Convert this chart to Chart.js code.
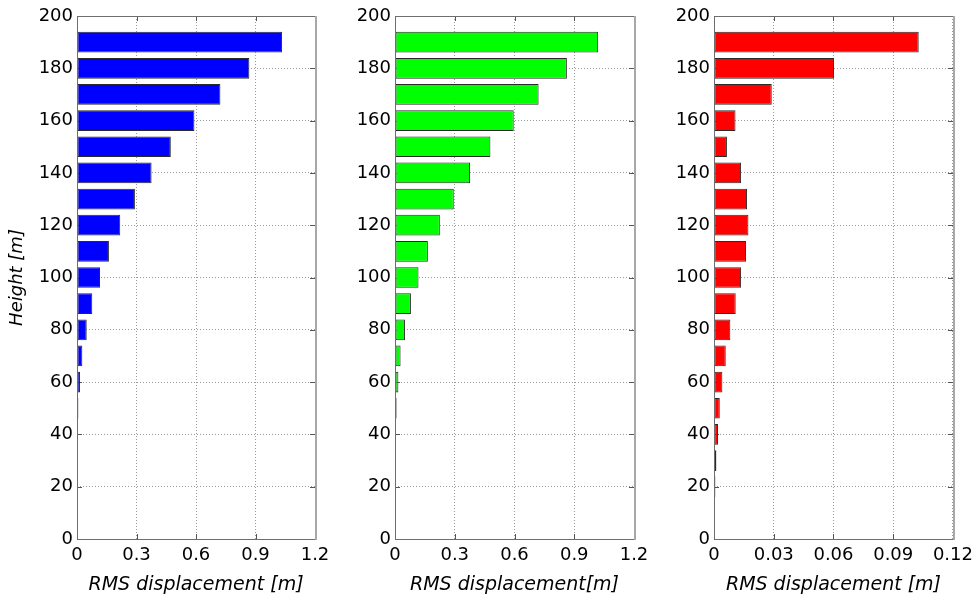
<!DOCTYPE html>
<html>
<head>
<meta charset="utf-8">
<script src="https://cdn.jsdelivr.net/npm/chart.js@4/dist/chart.umd.min.js"></script>
<style>
  html, body { margin: 0; padding: 0; background: #ffffff; }
  #wrap { position: relative; width: 979px; height: 606px; overflow: hidden; }
  canvas { position: absolute; left: 0; top: 0; }
</style>
</head>
<body>
<div id="wrap">
  <canvas id="c1" width="979" height="606"></canvas>
  <canvas id="c2" width="979" height="606"></canvas>
  <canvas id="c3" width="979" height="606"></canvas>
</div>
<script>
// ---- data ----
const heights = [10, 20, 30, 40, 50, 60, 70, 80, 90, 100, 110, 120, 130, 140, 150, 160, 170, 180, 190];
const blueValues  = [0, 0.0003, 0.001, 0.003, 0.007, 0.015, 0.027, 0.049, 0.077, 0.116, 0.161, 0.218, 0.292, 0.376, 0.473, 0.592, 0.723, 0.869, 1.034];
const greenValues = [0, 0.0005, 0.002, 0.005, 0.008, 0.017, 0.028, 0.050, 0.080, 0.118, 0.165, 0.225, 0.295, 0.377, 0.479, 0.596, 0.721, 0.863, 1.020];
const redValues   = [0, 0.0007, 0.0012, 0.0020, 0.0029, 0.0042, 0.0059, 0.0082, 0.0109, 0.0136, 0.0161, 0.0173, 0.0166, 0.0136, 0.0065, 0.0108, 0.0290, 0.0603, 0.1028];

const yTickValues = [0, 20, 40, 60, 80, 100, 120, 140, 160, 180, 200];
const yTickLabels = ['0', '20', '40', '60', '80', '100', '120', '140', '160', '180', '200'];
const xTickValuesBig = [0, 0.3, 0.6, 0.9, 1.2];
const xTickLabelsBig = ['0', '0.3', '0.6', '0.9', '1.2'];
const xTickValuesSmall = [0, 0.03, 0.06, 0.09, 0.12];
const xTickLabelsSmall = ['0', '0.03', '0.06', '0.09', '0.12'];

const yTitle = 'Height [m]';
const xTitles = ['RMS displacement [m]', 'RMS displacement[m]', 'RMS displacement [m]'];

// ---- style ----
const FONT = 'DejaVu Sans, Liberation Sans, Arial, sans-serif';
const FS = 18;
const PLOT_TOP = 16, PLOT_BOTTOM = 539, H = 606, W = 979;
const X_AXIS_H = 58;

const boxPlugin = {
  id: 'matlabBox',
  beforeDatasetsDraw(chart) {
    const {ctx, chartArea: a, scales} = chart;
    ctx.save();
    ctx.strokeStyle = '#555555';
    ctx.lineWidth = 1;
    ctx.beginPath();
    scales.y.ticks.forEach(t => {
      const py = Math.round(scales.y.getPixelForValue(t.value)) + 0.5;
      ctx.moveTo(a.left, py); ctx.lineTo(a.left + 5, py);
      ctx.moveTo(a.right, py); ctx.lineTo(a.right - 5, py);
    });
    scales.x.ticks.forEach(t => {
      const px = Math.round(scales.x.getPixelForValue(t.value)) + 0.5;
      ctx.moveTo(px, a.bottom); ctx.lineTo(px, a.bottom - 5);
      ctx.moveTo(px, a.top); ctx.lineTo(px, a.top + 5);
    });
    ctx.stroke();
    ctx.restore();
  },
  afterDraw(chart) {
    const {ctx, chartArea: a} = chart;
    ctx.save();
    ctx.lineWidth = 1;
    ctx.strokeStyle = '#6e6e6e';
    const l = Math.round(a.left) + 0.5, r = Math.round(a.right) + 0.5;
    const t = Math.round(a.top) + 0.5, b = Math.round(a.bottom) + 0.5;
    ctx.beginPath();
    ctx.moveTo(l, t); ctx.lineTo(r, t);
    ctx.moveTo(l, t); ctx.lineTo(l, b);
    ctx.lineTo(r, b);
    ctx.stroke();
    ctx.strokeStyle = '#a8a8a8';
    ctx.lineWidth = 2;
    ctx.beginPath();
    ctx.moveTo(r + 0.5, t - 0.5); ctx.lineTo(r + 0.5, b + 0.5);
    ctx.stroke();
    ctx.restore();
  }
};

function makePanel(canvasId, values, color, plotLeft, plotRight, xMax, xTickVals, xTickLabs, xTitle, showYTitle) {
  const yAxisW = showYTitle ? 75 : 45;
  const data = heights.map((h, i) => ({ x: values[i], y: h }));
  return new Chart(document.getElementById(canvasId), {
    type: 'bar',
    data: {
      datasets: [{
        data: data,
        backgroundColor: color,
        borderColor: '#2a2a2a',
        borderWidth: 1,
        borderSkipped: false,
        barPercentage: 0.79,
        categoryPercentage: 1.0
      }]
    },
    plugins: [boxPlugin],
    options: {
      indexAxis: 'y',
      responsive: false,
      animation: false,
      devicePixelRatio: 1,
      layout: {
        padding: {
          left: plotLeft - yAxisW,
          right: W - plotRight,
          top: PLOT_TOP,
          bottom: H - PLOT_BOTTOM - X_AXIS_H
        }
      },
      plugins: { legend: { display: false }, tooltip: { enabled: false } },
      scales: {
        y: {
          type: 'linear',
          position: 'left',
          offset: false,
          min: 0, max: 200,
          afterFit(scale) { scale.width = yAxisW; },
          afterBuildTicks(scale) { scale.ticks = yTickValues.map(v => ({ value: v })); },
          ticks: {
            callback: (v) => { const i = yTickValues.indexOf(v); return i >= 0 ? yTickLabels[i] : ''; },
            font: { family: FONT, size: FS },
            color: '#000000',
            padding: 4
          },
          grid: { color: '#9a9a9a', lineWidth: 1, drawTicks: false, offset: false },
          border: { display: false, dash: [1, 2] },
          title: {
            display: showYTitle,
            text: yTitle,
            font: { family: FONT, size: FS, style: 'italic' },
            color: '#000000',
            padding: { top: 5, bottom: 0 }
          }
        },
        x: {
          type: 'linear',
          position: 'bottom',
          min: 0, max: xMax,
          afterFit(scale) { scale.height = X_AXIS_H; },
          afterBuildTicks(scale) { scale.ticks = xTickVals.map(v => ({ value: v })); },
          ticks: {
            callback: (v) => { const i = xTickVals.indexOf(v); return i >= 0 ? xTickLabs[i] : ''; },
            font: { family: FONT, size: FS },
            color: '#000000',
            padding: 6,
            maxRotation: 0,
            autoSkip: false
          },
          grid: { color: '#9a9a9a', lineWidth: 1, drawTicks: false },
          border: { display: false, dash: [1, 2] },
          title: {
            display: true,
            text: xTitle,
            font: { family: FONT, size: 19, style: 'italic' },
            color: '#000000',
            padding: { top: 0, bottom: 1 }
          }
        }
      }
    }
  });
}

makePanel('c1', blueValues, '#0000ff', 77, 315, 1.2, xTickValuesBig, xTickLabelsBig, xTitles[0], true);
makePanel('c2', greenValues, '#00ff00', 395, 634, 1.2, xTickValuesBig, xTickLabelsBig, xTitles[1], false);
makePanel('c3', redValues, '#ff0000', 714, 953, 0.12, xTickValuesSmall, xTickLabelsSmall, xTitles[2], false);
</script>
</body>
</html>
